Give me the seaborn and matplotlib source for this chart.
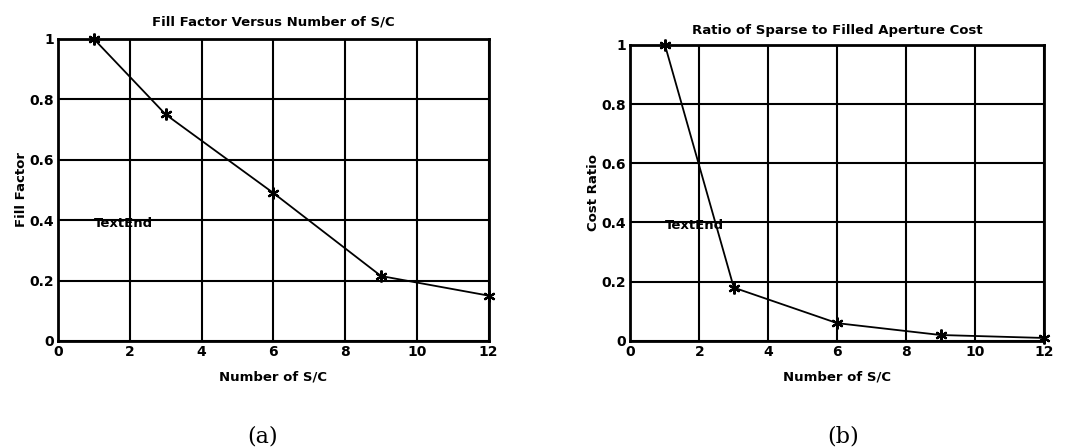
import matplotlib
matplotlib.use("Agg")
import matplotlib.pyplot as plt
import seaborn as sns
import pandas as pd

sns.set_theme(style="white")
plt.rcParams['font.family'] = ['DejaVu Sans']
plt.rcParams['text.color'] = 'black'
plt.rcParams['axes.labelcolor'] = 'black'
plt.rcParams['xtick.color'] = 'black'
plt.rcParams['ytick.color'] = 'black'

num_sc = [1, 3, 6, 9, 12]
fill_factor = [1.0, 0.75, 0.49, 0.215, 0.15]
cost_ratio = [1.0, 0.18, 0.06, 0.02, 0.01]
xticks = [0, 2, 4, 6, 8, 10, 12]
yticks = [0, 0.2, 0.4, 0.6, 0.8, 1]
ytick_labels = ["0", "0.2", "0.4", "0.6", "0.8", "1"]

fig = plt.figure(figsize=(10.74, 4.48), dpi=100)
ax1 = fig.add_axes([0.054, 0.239, 0.401, 0.674])
ax2 = fig.add_axes([0.587, 0.239, 0.385, 0.661])

panels = [
    (ax1, fill_factor, "Fill Factor Versus Number of S/C", "Fill Factor", "(a)", 263, 10),
    (ax2, cost_ratio, "Ratio of Sparse to Filled Aperture Cost", "Cost Ratio", "(b)", 843, 8),
]

for ax, vals, title, ylabel, cap, capx, tpad in panels:
    df = pd.DataFrame({"n": num_sc, "v": vals})
    sns.lineplot(data=df, x="n", y="v", ax=ax, color="black", linewidth=1.3,
                 marker=(6, 2, 0), markersize=8.5, markeredgewidth=1.6,
                 markeredgecolor="black", markerfacecolor="black", clip_on=False)
    ax.set_xlim(0, 12)
    ax.set_ylim(0, 1)
    ax.set_xticks(xticks)
    ax.set_xticklabels([str(t) for t in xticks], fontsize=10, fontweight="bold")
    ax.set_yticks(yticks)
    ax.set_yticklabels(ytick_labels, fontsize=10, fontweight="bold")
    ax.tick_params(length=0, pad=3)
    ax.grid(True, color="black", linewidth=1.5, linestyle="-")
    ax.set_axisbelow(True)
    for s in ax.spines.values():
        s.set_visible(True)
        s.set_color("black")
        s.set_linewidth(2)
    ax.set_title(title, fontsize=9.5, fontweight="bold", pad=tpad, color="black")
    ax.set_xlabel("Number of S/C", fontsize=9.5, fontweight="bold", labelpad=8)
    ax.set_ylabel(ylabel, fontsize=9.5, fontweight="bold", labelpad=1)
    ax.text(1, 0.39, "TextEnd", fontsize=9.5, fontweight="bold", va="center",
            ha="left", color="black")
    fig.text(capx / 1074, 1 - 436 / 448, cap, fontsize=16, color="black",
             family=["DejaVu Serif"], ha="center", va="center")

fig.savefig("out.png", dpi=100, facecolor="white")
